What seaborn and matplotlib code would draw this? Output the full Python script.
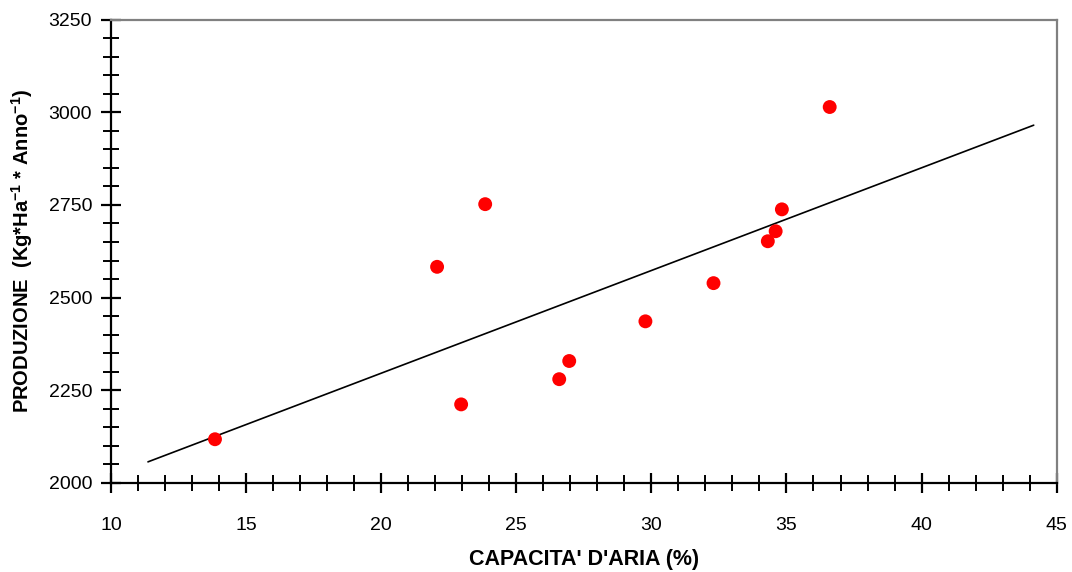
import matplotlib
matplotlib.use("Agg")
import matplotlib.pyplot as plt
from matplotlib.ticker import MultipleLocator
import seaborn as sns
import pandas as pd

# Data
capacita = [13.85, 22.07, 23.85, 22.96, 26.59, 26.96, 29.78, 32.30, 34.31, 34.60, 34.83, 36.60]
produzione = [2118, 2583, 2752, 2212, 2280, 2329, 2436, 2539, 2652, 2679, 2738, 3014]
trend_x = [11.37, 44.15]
trend_y = [2057, 2965]
x_ticks = [10, 15, 20, 25, 30, 35, 40, 45]
y_ticks = [2000, 2250, 2500, 2750, 3000, 3250]

sns.set_theme(style="white")
plt.rcParams['font.family'] = ['Liberation Sans', 'DejaVu Sans']
plt.rcParams['text.color'] = 'black'
plt.rcParams['axes.labelcolor'] = 'black'
plt.rcParams['mathtext.fontset'] = 'custom'
plt.rcParams['mathtext.rm'] = 'Liberation Sans'
plt.rcParams['mathtext.bf'] = 'Liberation Sans:bold'

df = pd.DataFrame({"x": capacita, "y": produzione})
tr = pd.DataFrame({"x": trend_x, "y": trend_y})

fig = plt.figure(figsize=(10.72, 5.72), dpi=100)
ax = fig.add_axes([0.1035, 0.1556, 0.8822, 0.8103])

sns.lineplot(data=tr, x="x", y="y", ax=ax, color="black", linewidth=1.2, zorder=2)
sns.scatterplot(data=df, x="x", y="y", ax=ax, color="#ff0000", s=100,
                edgecolor="none", zorder=3)

ax.set_xlim(10, 45)
ax.set_ylim(2000, 3250)
ax.set_xticks(x_ticks)
ax.set_yticks(y_ticks)
ax.xaxis.set_minor_locator(MultipleLocator(1))
ax.yaxis.set_minor_locator(MultipleLocator(50))

ax.tick_params(axis="both", which="major", direction="inout", length=15, width=1.6,
               color="black", labelsize=14, labelcolor="black")
ax.tick_params(axis="both", which="minor", direction="inout", length=11, width=1.4,
               color="black")
ax.tick_params(axis="x", which="major", pad=17)
ax.tick_params(axis="y", which="major", pad=6)
ax.tick_params(top=False, right=False, which="both")
ax.tick_params(bottom=True, left=True, which="both")

for side in ["left", "bottom"]:
    ax.spines[side].set_color("black")
    ax.spines[side].set_linewidth(1.6)
for side in ["top", "right"]:
    ax.spines[side].set_color("#808080")
    ax.spines[side].set_linewidth(1.6)
    ax.spines[side].set_visible(True)

ax.set_xlabel("CAPACITA' D'ARIA (%)", fontsize=15.5, fontweight="bold",
              color="black", labelpad=11)
ax.set_ylabel("PRODUZIONE  (Kg*Ha$^{\\mathbf{-1}}$ * Anno$^{\\mathbf{-1}}$)",
              fontsize=14.5, fontweight="bold", color="black", labelpad=10)
ax.grid(False)

fig.savefig("out.png", dpi=100)
